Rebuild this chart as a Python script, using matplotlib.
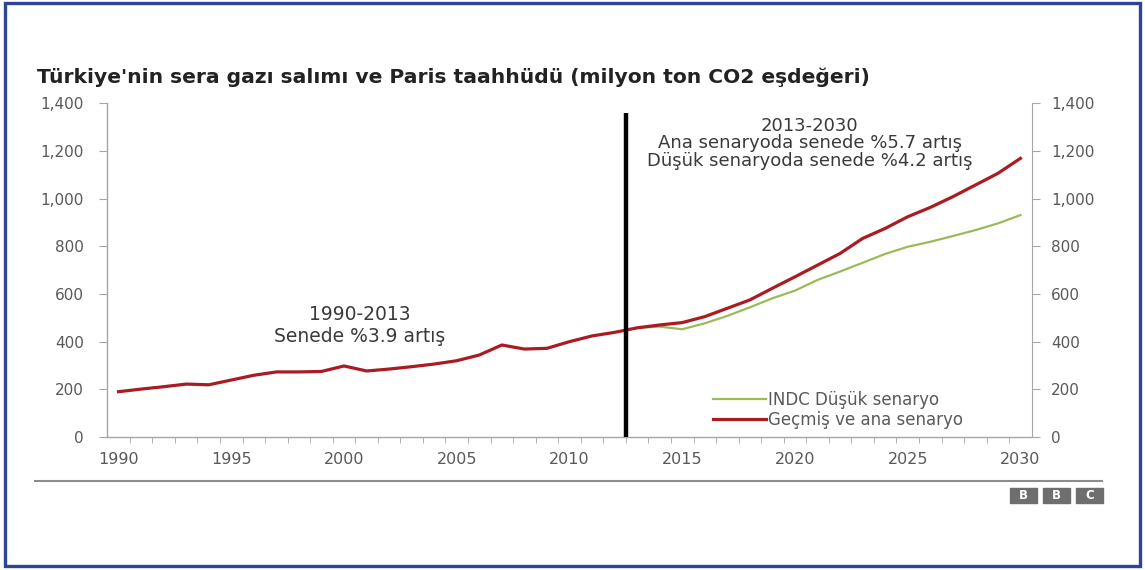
import matplotlib
matplotlib.use("Agg")
import matplotlib.pyplot as plt
from matplotlib.patches import Rectangle
from matplotlib.lines import Line2D
from matplotlib.ticker import FuncFormatter

W, H = 1145, 570

# data (milyon ton CO2 eşdeğeri)
years = list(range(1990, 2031))
main_values = [190, 201, 211, 222, 219, 239, 259, 273, 273, 275,
               298, 277, 285, 295, 306, 320, 344, 386, 369, 372,
               400, 424, 439, 458, 470, 480, 505, 540, 575, 624,
               672, 721, 770, 833, 875, 924, 963, 1008, 1057, 1106,
               1169]
low_years = list(range(2013, 2031))
low_values = [458, 463, 452, 477, 508, 544, 582, 614, 659, 694,
              731, 768, 798, 819, 843, 868, 896, 931]
y_ticks = [0, 200, 400, 600, 800, 1000, 1200, 1400]
x_labels = [1990, 1995, 2000, 2005, 2010, 2015, 2020, 2025, 2030]
split_year = 2012.5

title = "Türkiye'nin sera gazı salımı ve Paris taahhüdü (milyon ton CO2 eşdeğeri)"
note_left = "1990-2013\nSenede %3.9 artış"
note_right = ("2013-2030\nAna senaryoda senede %5.7 artış\n"
              "Düşük senaryoda senede %4.2 artış")
label_low = "INDC Düşük senaryo"
label_main = "Geçmiş ve ana senaryo"

RED = "#a81c22"
GREEN = "#9bbb59"
AXIS = "#a6a6a6"
TXT = "#595959"


def fx(px):
    return px / W


def fy(py):
    return 1 - py / H


fig = plt.figure(figsize=(W / 100, H / 100), dpi=100)
ax = fig.add_axes([fx(107.3), fy(437), (1031.7 - 107.3) / W, (437 - 103.3) / H])

low_line, = ax.plot(low_years, low_values, color=GREEN, lw=1.6, zorder=3)
main_line, = ax.plot(years, main_values, color=RED, lw=2.3, zorder=4)
ax.vlines(split_year, 0, 1360, color="black", lw=3.2, zorder=5)

ax.set_xlim(1989.5, 2030.5)
ax.set_ylim(0, 1400)
ax.set_yticks(y_ticks)
ax.set_xticks(x_labels)
ax.set_xticks([y + 0.5 for y in years[:-1]], minor=True)
fmt = FuncFormatter(lambda v, p: f"{int(v):,}")
ax.yaxis.set_major_formatter(fmt)

for s in ["top", "right"]:
    ax.spines[s].set_visible(False)
for s in ["left", "bottom"]:
    ax.spines[s].set_color(AXIS)
    ax.spines[s].set_linewidth(1.0)
ax.tick_params(axis="y", colors=AXIS, labelcolor=TXT, labelsize=11,
               length=6, pad=11)
ax.tick_params(axis="x", which="major", length=0, labelsize=11.5,
               labelcolor=TXT, pad=11)
ax.tick_params(axis="x", which="minor", colors=AXIS, length=4)

ax2 = ax.twinx()
ax2.set_ylim(0, 1400)
ax2.set_yticks(y_ticks)
ax2.yaxis.set_major_formatter(fmt)
for s in ["top", "left", "bottom"]:
    ax2.spines[s].set_visible(False)
ax2.spines["right"].set_color(AXIS)
ax2.tick_params(axis="y", colors=AXIS, labelcolor=TXT, labelsize=11,
                length=6, pad=8)

ax.text(2000.7, 468, note_left, ha="center", va="center", fontsize=13.5,
        color="#3a3a3a", linespacing=1.15)
ax.text(2020.66, 1232, note_right, ha="center", va="center", fontsize=13,
        color="#3a3a3a", linespacing=0.98)

ax.legend([low_line, main_line], [label_low, label_main],
          loc="upper left", bbox_to_anchor=(fx(713), fy(391)),
          bbox_transform=fig.transFigure, frameon=False, fontsize=12,
          handlelength=3.2, handletextpad=0.1, labelspacing=0.12,
          borderpad=0, borderaxespad=0, labelcolor=TXT)

fig.text(fx(37), fy(77), title, fontsize=14.6, fontweight="bold",
         color="#222222", ha="left", va="center")

# rule under the chart and the BBC block
fig.add_artist(Line2D([fx(35), fx(1102)], [fy(481), fy(481)],
                      color="#8c8c8c", lw=1.5, transform=fig.transFigure))
for i, ch in enumerate("BBC"):
    x0 = 1009.5 + i * 33.2
    fig.add_artist(Rectangle((fx(x0), fy(503)), 27 / W, 15.5 / H,
                             color="#6e6e6e", transform=fig.transFigure))
    fig.text(fx(x0 + 13.5), fy(495.3), ch, color="white", fontsize=8.5,
             fontweight="bold", ha="center", va="center")

# blue frame
fig.add_artist(Rectangle((fx(5), fy(566)), 1135 / W, 563 / H, fill=False,
                         edgecolor="#2c4594", lw=2.4,
                         transform=fig.transFigure))

fig.savefig("out.png", dpi=100)
